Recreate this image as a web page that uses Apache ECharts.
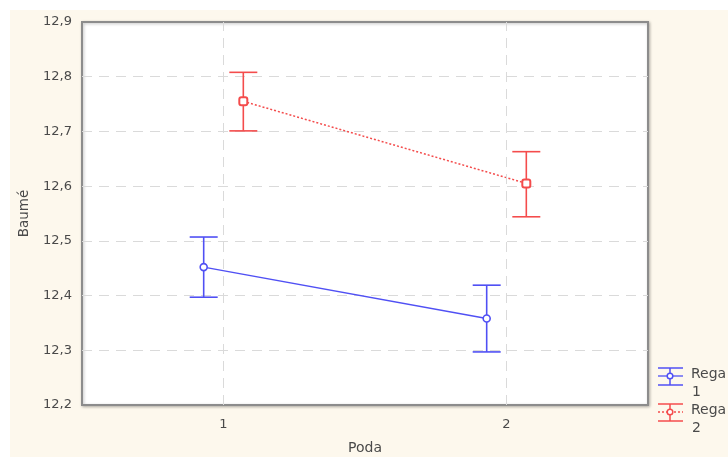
<!DOCTYPE html>
<html>
<head>
<meta charset="utf-8">
<script src="https://cdn.jsdelivr.net/npm/echarts@6/dist/echarts.min.js"></script>
<style>
  html, body { margin: 0; padding: 0; background: #ffffff; }
  #chart { width: 728px; height: 457px; }
</style>
</head>
<body>
<div id="chart"></div>
<script>
// Poda levels on the x axis
const podaLevels = [1, 2];
// Rega = 1 : mean Baumé with lower / upper confidence limits
const rega1Mean = [12.452, 12.358];
const rega1Low = [12.397, 12.297];
const rega1High = [12.507, 12.419];
// Rega = 2 : mean Baumé with lower / upper confidence limits
const rega2Mean = [12.755, 12.605];
const rega2Low = [12.701, 12.544];
const rega2High = [12.808, 12.663];
// y axis tick values
const yTicks = [12.2, 12.3, 12.4, 12.5, 12.6, 12.7, 12.8, 12.9];

const BLUE = '#5050f4';
const RED = '#f44c4c';
const DODGE = 0.07; // horizontal shift so the two groups do not overlap

const pts = (vals, shift) => podaLevels.map((p, i) => [p + shift, vals[i]]);
const bars = (lo, hi, shift) => podaLevels.map((p, i) => [p + shift, lo[i], hi[i]]);

function errorBarSeries(data, color) {
  return {
    type: 'custom',
    data: data,
    z: 3,
    renderItem: function (params, api) {
      const x = api.value(0);
      const lo = api.coord([x, api.value(1)]);
      const hi = api.coord([x, api.value(2)]);
      const half = 14;
      const style = { stroke: color, lineWidth: 1.6 };
      return {
        type: 'group',
        children: [
          { type: 'line', shape: { x1: lo[0], y1: lo[1], x2: hi[0], y2: hi[1] }, style },
          { type: 'line', shape: { x1: lo[0] - half, y1: lo[1], x2: lo[0] + half, y2: lo[1] }, style },
          { type: 'line', shape: { x1: hi[0] - half, y1: hi[1], x2: hi[0] + half, y2: hi[1] }, style }
        ]
      };
    }
  };
}

const FONT = '"DejaVu Sans", Verdana, sans-serif';
const TEXT = '#4a4a4a';
const gridDash = { color: '#dadada', width: 1, type: [10, 7] };

// legend built from drawn shapes and text
function legendItem(y, color, dotted, label1, label2) {
  const x0 = 658, x1 = 683, cx = 670;
  const s = { stroke: color, lineWidth: 1.5, fill: null };
  return [
    { type: 'line', shape: { x1: x0, y1: y - 8, x2: x1, y2: y - 8 }, style: s },
    { type: 'line', shape: { x1: x0, y1: y + 9, x2: x1, y2: y + 9 }, style: s },
    { type: 'line', shape: { x1: cx, y1: y - 8, x2: cx, y2: y + 9 }, style: s },
    { type: 'line', shape: { x1: x0, y1: y, x2: x1, y2: y },
      style: { stroke: color, lineWidth: 1.3, lineDash: dotted ? [2, 2] : null } },
    { type: 'circle', shape: { cx: cx, cy: y, r: 2.8 }, style: { stroke: color, lineWidth: 1.5, fill: '#fff' } },
    { type: 'text', x: 691, y: y - 9, style: { text: label1, fill: TEXT, font: '14px ' + FONT } },
    { type: 'text', x: 692, y: y + 9, style: { text: label2, fill: TEXT, font: '14px ' + FONT } }
  ];
}

const chart = echarts.init(document.getElementById('chart'), null, { renderer: 'canvas' });
chart.setOption({
  animation: false,
  backgroundColor: '#ffffff',
  graphic: [
    { type: 'rect', z: -100, silent: true, shape: { x: 10, y: 10, width: 718, height: 447 }, style: { fill: '#fdf8ed' } }
  ].concat(legendItem(376, BLUE, false, 'Rega', '1'), legendItem(412, RED, true, 'Rega', '2')),
  grid: {
    left: 82, top: 22, width: 566, height: 383,
    containLabel: false, outerBoundsMode: 'none',
    show: true, backgroundColor: '#ffffff',
    borderColor: '#8c8c8c', borderWidth: 2,
    shadowColor: 'rgba(0,0,0,0.25)', shadowBlur: 3, shadowOffsetX: 1, shadowOffsetY: 1
  },
  xAxis: {
    type: 'value', min: 0.5, max: 2.5, interval: 0.5,
    name: 'Poda', nameLocation: 'middle', nameGap: 36,
    nameTextStyle: { fontFamily: FONT, fontSize: 14, color: TEXT },
    axisLine: { show: false }, axisTick: { show: false },
    axisLabel: {
      margin: 13, fontFamily: FONT, fontSize: 13, color: TEXT,
      formatter: v => (podaLevels.indexOf(v) >= 0 ? String(v) : '')
    },
    splitLine: { show: false }
  },
  yAxis: {
    type: 'value', min: yTicks[0], max: yTicks[yTicks.length - 1], interval: 0.1,
    name: 'Baumé', nameLocation: 'middle', nameGap: 51, nameRotate: 90,
    nameTextStyle: { fontFamily: FONT, fontSize: 13.5, color: TEXT },
    axisLine: { show: false }, axisTick: { show: false },
    axisLabel: {
      margin: 10, fontFamily: FONT, fontSize: 13, color: TEXT,
      formatter: v => v.toFixed(1).replace('.', ',')
    },
    splitLine: { show: true, showMinLine: false, showMaxLine: false, lineStyle: gridDash }
  },
  series: [
    {
      type: 'line', data: [], silent: true,
      markLine: {
        silent: true, symbol: 'none', label: { show: false },
        lineStyle: gridDash,
        data: podaLevels.map(p => ({ xAxis: p }))
      }
    },
    errorBarSeries(bars(rega1Low, rega1High, -DODGE), BLUE),
    errorBarSeries(bars(rega2Low, rega2High, DODGE), RED),
    {
      type: 'line', data: pts(rega1Mean, -DODGE), z: 4,
      lineStyle: { color: BLUE, width: 1.5 },
      symbol: 'circle', symbolSize: 7,
      itemStyle: { color: '#ffffff', borderColor: BLUE, borderWidth: 1.6 }
    },
    {
      type: 'line', data: pts(rega2Mean, DODGE), z: 4,
      lineStyle: { color: RED, width: 1.5, type: [2, 2] },
      symbol: 'roundRect', symbolSize: 8,
      itemStyle: { color: '#ffffff', borderColor: RED, borderWidth: 2 }
    }
  ]
});
</script>
</body>
</html>
